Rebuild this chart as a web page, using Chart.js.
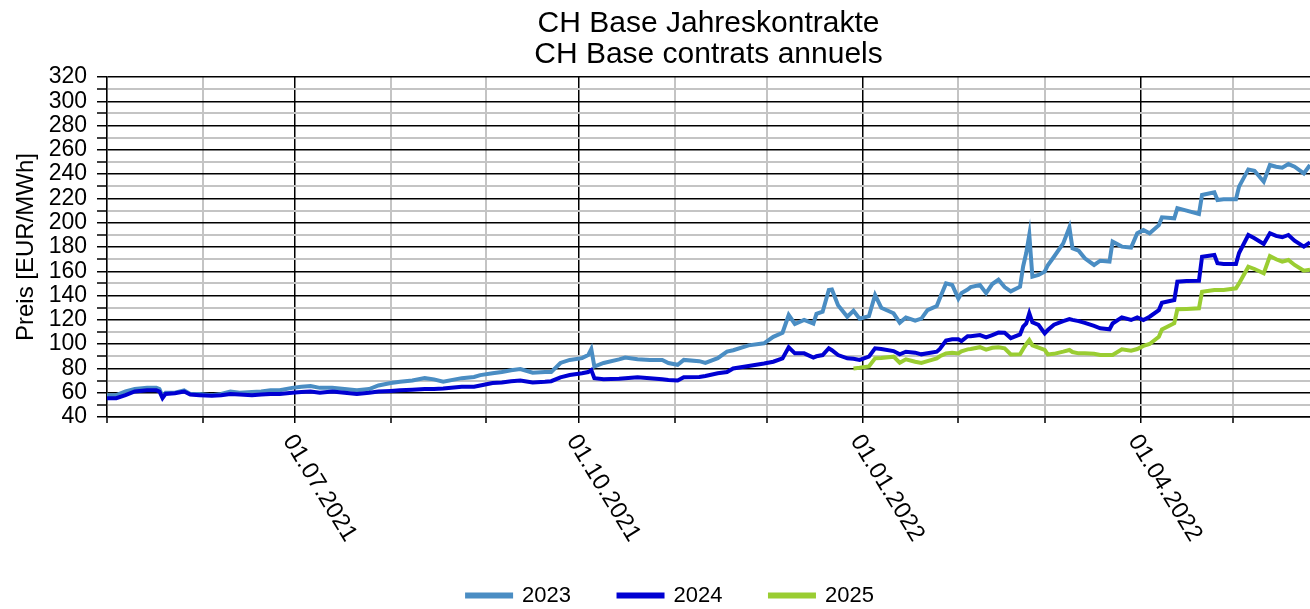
<!DOCTYPE html>
<html>
<head>
<meta charset="utf-8">
<title>CH Base Jahreskontrakte</title>
<script src="https://cdn.jsdelivr.net/npm/chart.js@4.4.1/dist/chart.umd.min.js"></script>
<style>
    html, body { margin: 0; padding: 0; background: #fff; }
    #wrap { width: 1310px; height: 609px; position: relative; }
</style>
</head>
<body>
<div id="wrap"><canvas id="chart"></canvas></div>
<script>
// Trading days
const dates = [
    '2021-05-01','2021-05-04','2021-05-07','2021-05-10','2021-05-14','2021-05-17','2021-05-18','2021-05-19','2021-05-20','2021-05-23','2021-05-26','2021-05-28','2021-05-31',
    '2021-06-04','2021-06-07','2021-06-10','2021-06-13','2021-06-17','2021-06-20','2021-06-23','2021-06-26','2021-06-30',
    '2021-07-03','2021-07-06','2021-07-09','2021-07-13','2021-07-17','2021-07-21','2021-07-25','2021-07-28',
    '2021-08-01','2021-08-04','2021-08-08','2021-08-12','2021-08-15','2021-08-18','2021-08-24','2021-08-28','2021-08-30',
    '2021-09-03','2021-09-06','2021-09-09','2021-09-12','2021-09-16','2021-09-20','2021-09-22','2021-09-25','2021-09-28',
    '2021-10-02','2021-10-04','2021-10-05','2021-10-06','2021-10-09','2021-10-14','2021-10-16','2021-10-20','2021-10-24','2021-10-28','2021-10-30',
    '2021-11-02','2021-11-04','2021-11-09','2021-11-11','2021-11-15','2021-11-18','2021-11-20','2021-11-25','2021-11-30',
    '2021-12-03','2021-12-06','2021-12-08','2021-12-10','2021-12-13','2021-12-16','2021-12-17','2021-12-19','2021-12-21','2021-12-22','2021-12-24','2021-12-27','2021-12-29','2021-12-31',
    '2022-01-03','2022-01-05','2022-01-07','2022-01-11','2022-01-13','2022-01-15','2022-01-18','2022-01-20','2022-01-22','2022-01-25','2022-01-26','2022-01-28','2022-01-30',
    '2022-02-01','2022-02-02','2022-02-04','2022-02-05','2022-02-08','2022-02-10','2022-02-12','2022-02-14','2022-02-16','2022-02-18','2022-02-21','2022-02-22','2022-02-23','2022-02-24','2022-02-25','2022-02-27',
    '2022-03-01','2022-03-02','2022-03-04','2022-03-07','2022-03-09','2022-03-10','2022-03-12','2022-03-14','2022-03-17','2022-03-19','2022-03-22','2022-03-23','2022-03-26','2022-03-29','2022-03-31',
    '2022-04-02','2022-04-04','2022-04-07','2022-04-08','2022-04-12','2022-04-13','2022-04-16','2022-04-20','2022-04-21','2022-04-25','2022-04-26','2022-04-28',
    '2022-05-02','2022-05-03','2022-05-06','2022-05-08','2022-05-11','2022-05-13','2022-05-15','2022-05-17','2022-05-19','2022-05-21','2022-05-24','2022-05-26'
];

const y2023 = [
    58, 58, 61, 63, 64, 64, 63, 57, 60, 60, 62, 59, 59,
    58, 59, 61, 60, 60.5, 61, 62, 62, 64,
    65, 65.5, 64, 64, 63, 62, 63, 66,
    68, 69, 70, 72, 71, 69, 72, 73, 74.5,
    76, 77, 78.5, 79.5, 76.5, 77, 77, 84.5, 87,
    88.5, 91, 96, 81.5, 84.5, 87.5, 89, 87.5, 87, 87, 84.5,
    83, 87, 86, 84.5, 88.5, 93.8, 95, 99, 100.7,
    106, 109.4, 124, 116.6, 120, 117, 125, 126.7, 144.6, 145, 132, 122.6, 127.5, 121,
    123, 140.5, 130, 125.4, 117.7, 122, 119.3, 121, 128, 131.4, 137.8, 150, 148.7,
    137.5, 142, 145, 147, 148.7, 142, 149.5, 153, 147, 143.5, 147.3, 164, 175, 190, 155.5, 157,
    159.7, 165, 172, 183, 196.2, 179, 177, 170.7, 165.2, 168.7, 168, 184.4, 180.3, 179.5, 191.3,
    194, 191.3, 198, 204.5, 203.6, 212, 210, 207.2, 222.8, 225, 218.7, 219.3,
    219.3, 229.7, 243.9, 242.8, 233.8, 247.5, 246.1, 245.3, 248.3, 246.1, 240.6, 247.5
];

const y2024 = [
    55.5, 55.5, 58, 61, 62, 62, 61, 55.5, 59, 59.5, 61, 58.5, 58,
    57.5, 58, 59, 58.5, 58, 58.5, 59, 59, 60,
    60.5, 61, 60, 61, 60, 59, 60, 61,
    61.5, 62, 62.5, 63, 63, 63.5, 65, 65, 66,
    68, 68.5, 69.5, 70, 68.5, 69, 69.5, 72.7, 74.6,
    76, 77, 78.7, 72, 71, 71.5, 72, 72.7, 72, 71, 70.5,
    70, 72.7, 73, 73.8, 76, 77, 80, 82, 84,
    85.5, 88.3, 97.4, 92.4, 92.4, 89, 90, 91, 96.6, 95, 91, 88.3, 88, 87,
    89.7, 96.6, 96, 94.3, 91.6, 93.8, 93, 91.6, 92.5, 93.8, 96, 103, 104,
    104, 102.5, 106.5, 106.5, 107.5, 105.6, 107.5, 109.5, 109.4, 105, 108, 114.4, 117, 125.4, 118, 115.8,
    108.9, 111.6, 116, 119, 120.7, 120, 119, 117.5, 115, 113, 112.2, 117, 122.1, 119.9, 122.1,
    119.9, 122.6, 128, 134.1, 136.3, 151.4, 152, 152.2, 172, 173.4, 166.6, 166,
    166, 175, 189.9, 187.2, 182.5, 191.3, 189.1, 188, 189.9, 185.2, 180.3, 183.9
];

const y2025 = [
    null, null, null, null, null, null, null, null, null, null, null, null, null,
    null, null, null, null, null, null, null, null, null,
    null, null, null, null, null, null, null, null,
    null, null, null, null, null, null, null, null, null,
    null, null, null, null, null, null, null, null, null,
    null, null, null, null, null, null, null, null, null, null, null,
    null, null, null, null, null, null, null, null, null,
    null, null, null, null, null, null, null, null, null, null, null, null, 80, 80.5,
    81.6, 88.3, 88.5, 89.7, 84.7, 87.5, 85.5, 84.5, 86, 88.3, 90, 92.4, 93,
    92.4, 94, 95.7, 96, 97.5, 95.5, 97, 97.5, 96.6, 91.5, 91.6, 96, 100, 103.4, 99, 97.1,
    95.2, 91.5, 92, 93.8, 95.2, 93.5, 92.4, 92.4, 92, 91, 91, 91, 95.7, 94.6, 96,
    98.5, 100.1, 106, 112, 117.2, 128.7, 129, 129.5, 143.2, 144.6, 144.6, 144.6,
    146, 150, 163.8, 161.9, 158.3, 172.6, 169.9, 167.9, 169.3, 165.2, 160.5, 161.2
];

const seriesNames = ['2023', '2024', '2025'];
const seriesColors = ['#4a8dc3', '#0000d2', '#9acd32'];

const axisStart = '2021-05-01';
const axisEnd = '2022-05-26';
const monthTicks = [
    '2021-05-01','2021-06-01','2021-07-01','2021-08-01','2021-09-01','2021-10-01','2021-11-01',
    '2021-12-01','2022-01-01','2022-02-01','2022-03-01','2022-04-01','2022-05-01'
];
const quarterTicks = ['2021-07-01', '2021-10-01', '2022-01-01', '2022-04-01'];

const FONT = "'Liberation Sans', Arial, Helvetica, sans-serif";
const startMs = Date.parse(axisStart);
const dayOf = s => Math.round((Date.parse(s) - startMs) / 86400000);
const quarterDays = quarterTicks.map(dayOf);
const fmtDate = s => s.split('-').reverse().join('.');

function points(values) {
    return dates
        .map((d, i) => ({ x: dayOf(d), y: values[i] }))
        .filter(p => p.y !== null);
}

// x labels are drawn rotated clockwise, starting at the tick
const quarterLabels = {
    id: 'quarterLabels',
    afterLayout(chart) {
        // legend sits a bit left of the plot centre in the original
        const lg = chart.legend;
        if (lg) { lg.left -= 38; lg.right -= 38; }
    },
    afterDraw(chart) {
        const { ctx, chartArea } = chart;
        const x = chart.scales.x;
        ctx.save();
        ctx.font = '24px ' + FONT;
        ctx.fillStyle = '#000';
        ctx.textAlign = 'left';
        ctx.textBaseline = 'middle';
        quarterTicks.forEach(d => {
            const px = x.getPixelForValue(dayOf(d));
            ctx.save();
            ctx.translate(px - 7, chartArea.bottom + 20);
            ctx.rotate(58.5 * Math.PI / 180);
            ctx.fillText(fmtDate(d), 0, 0);
            ctx.restore();
        });
        ctx.restore();
    }
};

const allSeries = [y2023, y2024, y2025];

new Chart(document.getElementById('chart'), {
    type: 'line',
    data: {
        datasets: allSeries.map((vals, i) => ({
            label: seriesNames[i],
            data: points(vals),
            borderColor: seriesColors[i],
            backgroundColor: seriesColors[i],
            borderWidth: 4,
            pointRadius: 0,
            tension: 0,
            order: 2 - i
        }))
    },
    options: {
        responsive: true,
        maintainAspectRatio: false,
        animation: false,
        layout: { padding: 0 },
        plugins: {
            title: {
                display: true,
                text: ['CH Base Jahreskontrakte', 'CH Base contrats annuels'],
                color: '#000',
                fullSize: false,
                font: { family: FONT, size: 30, weight: 'normal', lineHeight: 31 / 30 },
                padding: { top: 8, bottom: 7 }
            },
            legend: {
                position: 'bottom',
                fullSize: false,
                maxHeight: 72,
                labels: {
                    boxWidth: 44,
                    boxHeight: 2,
                    padding: 47.5,
                    color: '#000',
                    font: { family: FONT, size: 22 },
                    sort: (a, b) => a.datasetIndex - b.datasetIndex
                }
            },
            tooltip: { enabled: false }
        },
        scales: {
            x: {
                type: 'linear',
                min: 0,
                max: dayOf(axisEnd),
                afterBuildTicks: s => { s.ticks = monthTicks.map(d => ({ value: dayOf(d) })); },
                afterFit: s => { s.height = 120; },
                ticks: { autoSkip: false, maxRotation: 0, callback: () => '' },
                grid: {
                    color: c => c.tick && quarterDays.includes(c.tick.value) ? '#000' : '#c4c4c4',
                    lineWidth: c => c.tick && quarterDays.includes(c.tick.value) ? 1.5 : 2,
                    tickLength: 6,
                    tickColor: '#000',
                    tickWidth: 1.5
                },
                border: { color: '#000', width: 1.5 }
            },
            y: {
                min: 40,
                max: 320,
                afterFit: s => { s.width = 107; },
                ticks: {
                    stepSize: 10,
                    autoSkip: false,
                    padding: 10,
                    color: '#000',
                    font: { family: FONT, size: 23 },
                    callback: v => (v % 20 === 0 ? v : '')
                },
                grid: {
                    color: c => c.tick && c.tick.value % 20 === 0 ? '#000' : '#c4c4c4',
                    lineWidth: c => c.tick && c.tick.value % 20 === 0 ? 1.5 : 2,
                    tickLength: 10,
                    tickColor: '#000',
                    tickWidth: 1.5
                },
                border: { color: '#000', width: 1.5 },
                title: {
                    display: true,
                    text: 'Preis [EUR/MWh]',
                    color: '#000',
                    font: { family: FONT, size: 24 },
                    padding: { top: 12, bottom: 0 }
                }
            }
        }
    },
    plugins: [quarterLabels]
});
</script>
</body>
</html>
